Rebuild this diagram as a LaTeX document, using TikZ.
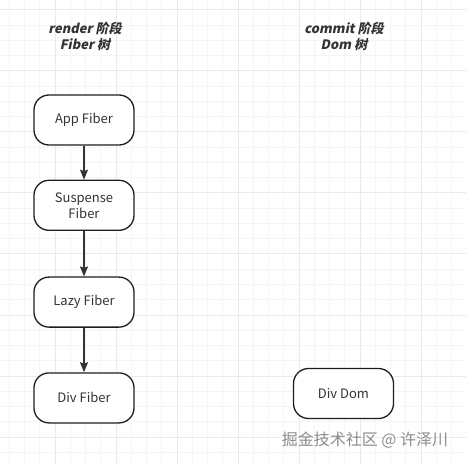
\documentclass[tikz,border=0pt]{standalone}
\usepackage{fontspec}
\setmainfont{Noto Sans CJK SC}
\newfontfamily\titlefont[FakeSlant=0.2]{Noto Sans CJK SC}
\usetikzlibrary{positioning,arrows.meta}
\definecolor{GridMinor}{HTML}{F5F5F5}
\definecolor{GridMajor}{HTML}{EAEAEA}
\definecolor{BoxLine}{HTML}{1E1E1E}
\definecolor{TextGray}{HTML}{333333}
\definecolor{MarkGray}{HTML}{8C8C8C}

\begin{document}
\begin{tikzpicture}[x=1pt,y=-1pt,>={Stealth[length=10pt,width=8pt,inset=1.5pt]}]
  \tikzstyle{fiber}=[draw=BoxLine,line width=1.3pt,fill=white,rounded corners=15pt,
    minimum width=100pt,minimum height=50pt,align=center,text=TextGray,
    font=\fontsize{13}{16}\selectfont]
  \tikzstyle{phase}=[align=center,text=TextGray,
    font=\titlefont\bfseries\fontsize{13}{16}\selectfont]
  \useasboundingbox (0,0) rectangle (466,465);
  \fill[white] (0,0) rectangle (466,465);
  % background grid
  \foreach \i in {0,...,31}{
    \draw[GridMinor,line width=1pt] ({-6+15.25*\i},0) -- ({-6+15.25*\i},465);
    \draw[GridMinor,line width=1pt] (0,{-5.25+15.25*\i}) -- (466,{-5.25+15.25*\i});
  }
  \foreach \i in {0,...,7}{
    \draw[GridMajor,line width=1pt] ({-6+61*\i},0) -- ({-6+61*\i},465);
    \draw[GridMajor,line width=1pt] (0,{10+61*\i}) -- (466,{10+61*\i});
  }
  % titles
  \node[phase] (rtitle) at (85,36) {render 阶段\\Fiber 树};
  \node[phase] (ctitle) at (344,36) {commit 阶段\\Dom 树};
  % fiber tree
  \node[fiber] (app) at (84,120) {App Fiber};
  \node[fiber,below=34pt of app] (suspense) {Suspense\\Fiber};
  \node[fiber,below=45.5pt of suspense] (lazy) {Lazy Fiber};
  \node[fiber,below=44.5pt of lazy] (divfiber) {Div Fiber};
  \draw[->,line width=1.6pt,color=TextGray] (app)--(suspense);
  \draw[->,line width=1.6pt,color=TextGray] (suspense)--(lazy);
  \draw[->,line width=1.6pt,color=TextGray] (lazy)--(divfiber);
  % dom tree
  \node[fiber] (divdom) at (343.5,393.5) {Div Dom};
  \node[text=MarkGray,font=\fontsize{16}{18}\selectfont] (mark) at (365,440) {掘金技术社区 @ 许泽川};
\end{tikzpicture}
\end{document}
